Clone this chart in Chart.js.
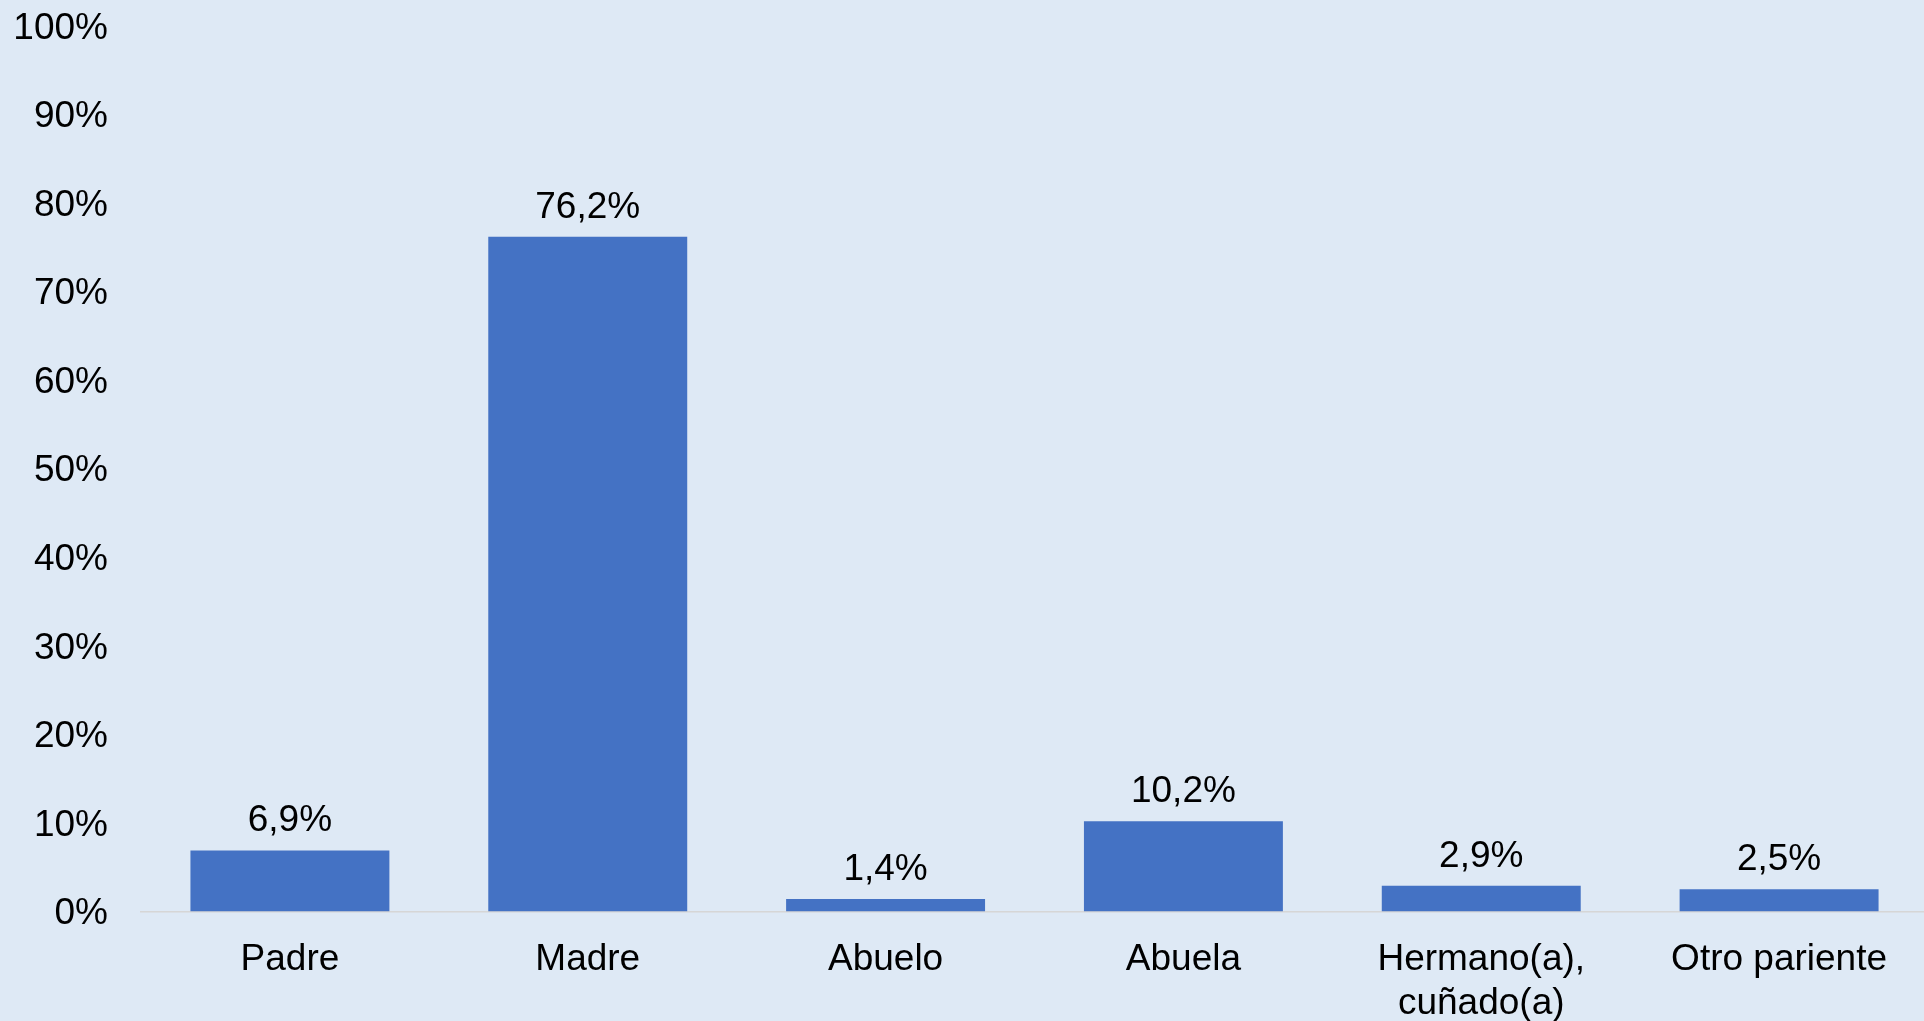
<!DOCTYPE html>
<html>
<head>
<meta charset="utf-8">
<script src="https://cdn.jsdelivr.net/npm/chart.js@4.4.0/dist/chart.umd.min.js"></script>
<style>
  html, body { margin: 0; padding: 0; background: #dee9f5; overflow: hidden; }
  #wrap { width: 1928px; height: 1021px; }
</style>
</head>
<body>
<div id="wrap"><canvas id="relChart"></canvas></div>
<script>
const categories = ['Padre', 'Madre', 'Abuelo', 'Abuela', ['Hermano(a),', 'cuñado(a)'], 'Otro pariente'];
const values = [6.9, 76.2, 1.4, 10.2, 2.9, 2.5];
const yTicks = [0, 10, 20, 30, 40, 50, 60, 70, 80, 90, 100];

const fontFamily = "'Liberation Sans', Arial, sans-serif";

// draws value labels above each bar
const barLabels = {
  id: 'barLabels',
  afterDatasetsDraw(chart) {
    const ctx = chart.ctx;
    const meta = chart.getDatasetMeta(0);
    ctx.save();
    ctx.font = '37px ' + fontFamily;
    ctx.fillStyle = '#000';
    ctx.textAlign = 'center';
    ctx.textBaseline = 'alphabetic';
    meta.data.forEach((bar, i) => {
      const txt = values[i].toFixed(1).replace('.', ',') + '%';
      ctx.fillText(txt, bar.x, bar.y - 19);
    });
    ctx.restore();
  },
};

const canvas = document.querySelector('#relChart').getContext('2d');
new Chart(canvas, {
  type: 'bar',
  data: {
    labels: categories,
    datasets: [
      {
        data: values,
        backgroundColor: '#4472c4',
        borderWidth: 0,
        barPercentage: 0.668,
        categoryPercentage: 1,
      },
    ],
  },
  options: {
    responsive: true,
    maintainAspectRatio: false,
    animation: false,
    layout: { padding: { top: 26, right: 0, bottom: 0, left: 0 } },
    plugins: {
      legend: { display: false },
      tooltip: { enabled: false },
    },
    scales: {
      x: {
        grid: { display: false, drawTicks: false },
        border: { display: true, color: '#d6d6d6', width: 1.5 },
        ticks: {
          color: '#000',
          padding: 26,
          maxRotation: 0,
          autoSkip: false,
          font: { family: fontFamily, size: 37, lineHeight: 1.2 },
        },
        afterFit: s => { s.height = 109.5; s.paddingLeft = 0; s.paddingRight = 0; },
      },
      y: {
        min: 0,
        max: 100,
        afterBuildTicks: s => { s.ticks = yTicks.map(v => ({ value: v })); },
        grid: { display: false, drawTicks: false },
        border: { display: false },
        ticks: {
          color: '#000',
          padding: 33,
          labelOffset: 2.5,
          font: { family: fontFamily, size: 37 },
          callback: v => v + '%',
        },
        afterFit: s => { s.width = 141; s.paddingTop = 0; s.paddingBottom = 0; },
      },
    },
  },
  plugins: [barLabels],
});
</script>
</body>
</html>
